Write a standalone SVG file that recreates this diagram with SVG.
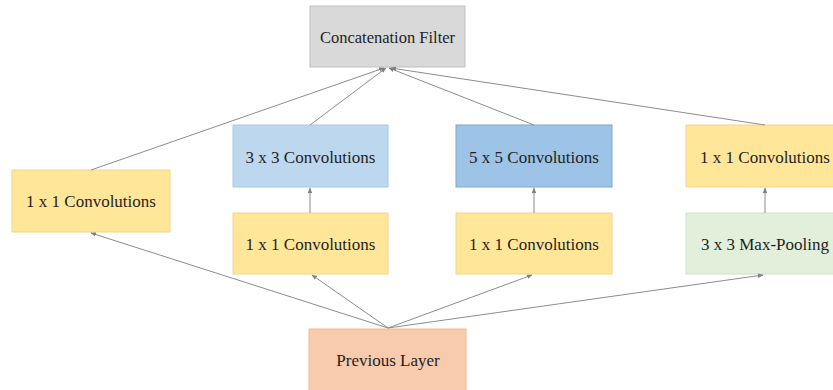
<svg xmlns="http://www.w3.org/2000/svg" width="833" height="390" viewBox="0 0 833 390">
<defs>
<marker id="ah" markerWidth="6" markerHeight="6" refX="5" refY="3" orient="auto" markerUnits="userSpaceOnUse">
<path d="M0,0.8 L5.5,3 L0,5.2 Z" fill="#7f7f7f"/>
</marker>
</defs>
<style>
text{font-family:'Liberation Serif','Times New Roman','DejaVu Serif',serif;font-size:17px;fill:#1f1f1f;text-anchor:middle;dominant-baseline:central}
.box{stroke-width:1}
.yel{fill:#ffe699;stroke:#f2d58a}
.gray{fill:#d9d9d9;stroke:#bfbfbf}
.lb{fill:#bdd7ee;stroke:#a9c8e6}
.db{fill:#9dc3e6;stroke:#7ea6d0}
.gr{fill:#e2efda;stroke:#cfe2c4}
.or{fill:#f8cbad;stroke:#efb894}
.con{stroke:#8c8c8c;stroke-width:1;fill:none;marker-end:url(#ah)}
</style>
<rect width="833" height="390" fill="#ffffff"/>
<g font-family="Liberation Serif, serif">
<g id="concat"><rect class="box gray" x="310" y="6" width="155" height="61"/><text x="387.5" y="37" style="font-size:16.5px">Concatenation  Filter</text></g>
<g id="conv1x1_a"><rect class="box yel" x="12" y="170" width="158" height="62"/><text x="91" y="201">1 x 1 Convolutions</text></g>
<g id="conv3x3"><rect class="box lb" x="233" y="125" width="155" height="62"/><text x="310.5" y="157">3 x 3 Convolutions</text></g>
<g id="conv1x1_b"><rect class="box yel" x="233" y="213" width="155" height="61"/><text x="310.5" y="244">1 x 1 Convolutions</text></g>
<g id="conv5x5"><rect class="box db" x="456" y="125" width="156" height="62"/><text x="534" y="157">5 x 5 Convolutions</text></g>
<g id="conv1x1_c"><rect class="box yel" x="456" y="213" width="156" height="61"/><text x="534" y="244">1 x 1 Convolutions</text></g>
<g id="conv1x1_d"><rect class="box yel" x="686" y="125" width="158" height="62"/><text x="765" y="157">1 x 1 Convolutions</text></g>
<g id="maxpool"><rect class="box gr" x="686" y="213" width="158" height="61"/><text x="765" y="244">3 x 3 Max-Pooling</text></g>
<g id="prev"><rect class="box or" x="309" y="329" width="157" height="70"/><text x="388" y="360">Previous Layer</text></g>
</g>
<g id="connectors">
<line class="con" x1="91" y1="170" x2="384" y2="68"/>
<line class="con" x1="310" y1="125" x2="386" y2="68"/>
<line class="con" x1="534" y1="125" x2="389" y2="68"/>
<line class="con" x1="765" y1="125" x2="391" y2="68"/>
<line class="con" x1="310" y1="213" x2="310" y2="188"/>
<line class="con" x1="534" y1="213" x2="534" y2="188"/>
<line class="con" x1="765" y1="213" x2="765" y2="188"/>
<line class="con" x1="388" y1="328" x2="91" y2="233"/>
<line class="con" x1="388" y1="328" x2="312" y2="275"/>
<line class="con" x1="388" y1="328" x2="532" y2="275"/>
<line class="con" x1="388" y1="328" x2="763" y2="275"/>
</g>
</svg>
